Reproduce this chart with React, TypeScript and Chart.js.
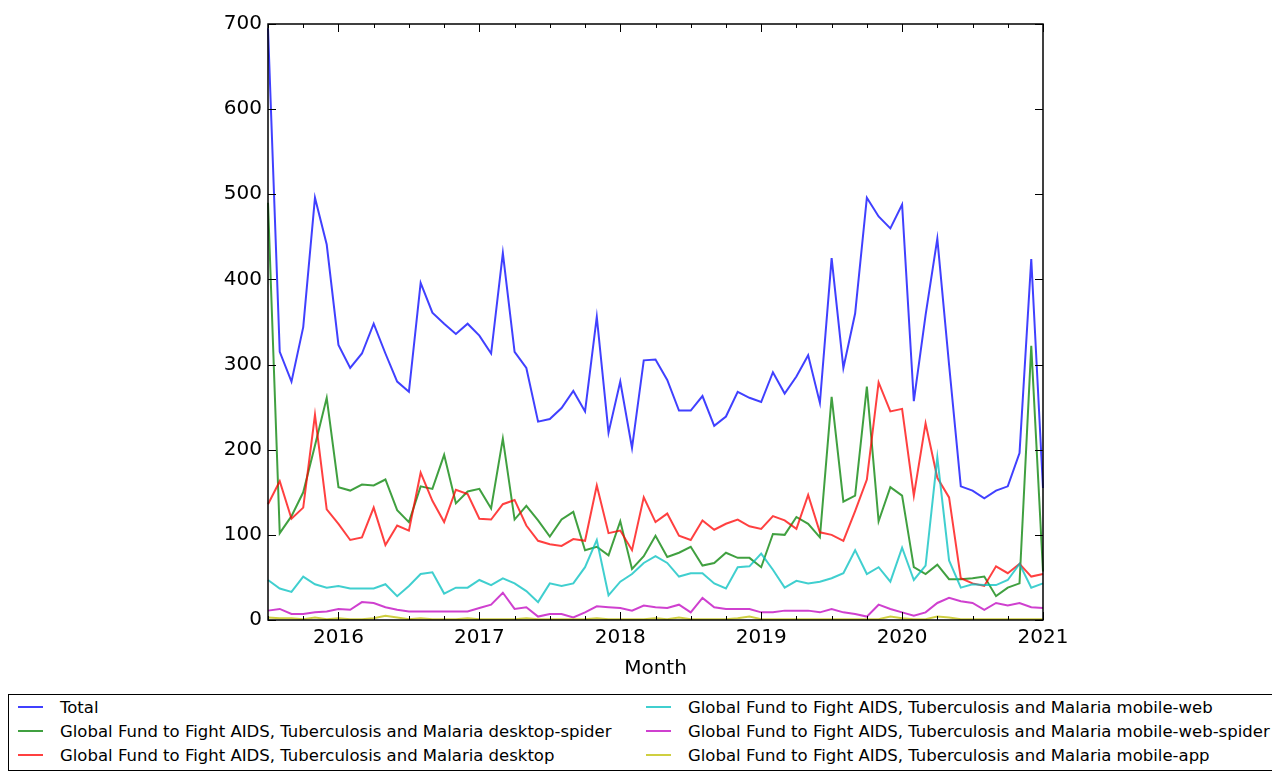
import { Chart, registerables } from "chart.js";
import { useEffect, useRef } from "react";

Chart.register(...registerables);

Chart.defaults.font.family = "'DejaVu Sans', sans-serif";
Chart.defaults.color = "#000";

const months = [
  "2015-07", "2015-08", "2015-09", "2015-10", "2015-11", "2015-12",
  "2016-01", "2016-02", "2016-03", "2016-04", "2016-05", "2016-06",
  "2016-07", "2016-08", "2016-09", "2016-10", "2016-11", "2016-12",
  "2017-01", "2017-02", "2017-03", "2017-04", "2017-05", "2017-06",
  "2017-07", "2017-08", "2017-09", "2017-10", "2017-11", "2017-12",
  "2018-01", "2018-02", "2018-03", "2018-04", "2018-05", "2018-06",
  "2018-07", "2018-08", "2018-09", "2018-10", "2018-11", "2018-12",
  "2019-01", "2019-02", "2019-03", "2019-04", "2019-05", "2019-06",
  "2019-07", "2019-08", "2019-09", "2019-10", "2019-11", "2019-12",
  "2020-01", "2020-02", "2020-03", "2020-04", "2020-05", "2020-06",
  "2020-07", "2020-08", "2020-09", "2020-10", "2020-11", "2020-12",
  "2021-01",
];

const total = [
  695, 315, 280, 344, 496, 441, 323, 296, 313, 348, 313, 280, 268, 396, 361,
  348, 336, 348, 334, 313, 431, 315, 296, 233, 236, 249, 269, 245, 356, 220,
  280, 202, 305, 306, 282, 246, 246, 263, 228, 239, 268, 261, 256, 291, 266,
  286, 311, 255, 425, 296, 360, 496, 474, 460, 488, 257, 358, 448, 300, 157,
  152, 143, 152, 157, 196, 424, 155,
];

const desktopSpider = [
  490, 102, 122, 150, 205, 261, 156, 152, 159, 158, 165, 129, 115, 157, 154,
  194, 137, 151, 154, 131, 213, 118, 134, 117, 98, 118, 127, 82, 86, 76, 116,
  60, 75, 99, 74, 79, 86, 64, 67, 79, 73, 73, 62, 101, 100, 121, 113, 97, 262,
  139, 146, 274, 116, 156, 146, 62, 54, 65, 48, 48, 49, 51, 28, 38, 43, 322, 57,
];

const desktop = [
  136, 163, 119, 132, 241, 130, 113, 94, 97, 132, 88, 111, 105, 173, 140, 115,
  153, 148, 119, 118, 136, 141, 111, 93, 89, 87, 95, 93, 158, 102, 105, 82,
  144, 115, 125, 99, 94, 117, 106, 113, 118, 110, 107, 122, 117, 107, 147, 103,
  100, 93, 128, 165, 279, 245, 248, 146, 231, 167, 144, 49, 43, 40, 63, 55, 66,
  51, 54,
];

const mobileWeb = [
  47, 37, 33, 51, 42, 38, 40, 37, 37, 37, 42, 28, 40, 54, 56, 31, 38, 38, 47,
  41, 49, 43, 34, 21, 43, 40, 43, 62, 94, 29, 45, 54, 67, 75, 67, 51, 55, 55,
  43, 37, 62, 63, 78, 59, 38, 46, 43, 45, 49, 55, 82, 54, 62, 45, 85, 47, 64,
  191, 70, 38, 42, 41, 41, 47, 66, 38, 43,
];

const mobileWebSpider = [
  11, 13, 7, 7, 9, 10, 13, 12, 21, 20, 15, 12, 10, 10, 10, 10, 10, 10, 14, 18,
  32, 13, 15, 4, 7, 7, 3, 9, 16, 15, 14, 11, 17, 15, 14, 18, 9, 26, 15, 13, 13,
  13, 9, 9, 11, 11, 11, 9, 13, 9, 7, 4, 18, 13, 9, 5, 9, 20, 26, 22, 20, 12, 20,
  17, 20, 15, 14,
];

const mobileApp = [
  3, 2, 2, 1, 3, 1, 2, 1, 1, 2, 5, 3, 1, 2, 1, 1, 1, 2, 1, 1, 1, 1, 2, 1, 1, 1,
  1, 1, 2, 1, 1, 1, 1, 2, 1, 3, 1, 1, 1, 1, 2, 4, 1, 1, 1, 1, 1, 1, 1, 1, 1, 1,
  1, 4, 2, 1, 1, 4, 3, 1, 1, 1, 1, 1, 1, 1, 1,
];

const yTicks = [0, 100, 200, 300, 400, 500, 600, 700];

const prefix = "Global Fund to Fight AIDS, Tuberculosis and Malaria";

const series = [
  { label: "Total", data: total, color: "rgba(0, 0, 255, 0.75)" },
  { label: `${prefix} desktop-spider`, data: desktopSpider, color: "rgba(0, 128, 0, 0.75)" },
  { label: `${prefix} desktop`, data: desktop, color: "rgba(255, 0, 0, 0.75)" },
  { label: `${prefix} mobile-web`, data: mobileWeb, color: "rgba(0, 191, 191, 0.75)" },
  { label: `${prefix} mobile-web-spider`, data: mobileWebSpider, color: "rgba(191, 0, 191, 0.75)" },
  { label: `${prefix} mobile-app`, data: mobileApp, color: "rgba(191, 191, 0, 0.75)" },
];

// matplotlib style frame with inward ticks on all four sides
const frameTicks = {
  id: "frameTicks",
  afterDatasetsDraw(chart: Chart) {
    const { ctx, chartArea: a } = chart;
    const x = chart.scales.x;
    const y = chart.scales.y;
    ctx.save();
    ctx.strokeStyle = "#000";
    ctx.lineWidth = 1;
    ctx.beginPath();
    months.forEach((m, i) => {
      if (i % 3 !== 0) return;
      const px = Math.round(x.getPixelForValue(i)) + 0.5;
      const len = m.endsWith("-01") ? 8 : 4;
      ctx.moveTo(px, a.bottom);
      ctx.lineTo(px, a.bottom - len);
      ctx.moveTo(px, a.top);
      ctx.lineTo(px, a.top + len);
    });
    yTicks.forEach((v) => {
      const py = Math.round(y.getPixelForValue(v)) + 0.5;
      ctx.moveTo(a.left, py);
      ctx.lineTo(a.left + 8, py);
      ctx.moveTo(a.right, py);
      ctx.lineTo(a.right - 8, py);
    });
    ctx.stroke();
    ctx.lineWidth = 1.5;
    ctx.strokeRect(a.left, a.top, a.right - a.left, a.bottom - a.top);
    ctx.restore();
  },
};

function Legend() {
  const order = [0, 3, 1, 4, 2, 5];
  return (
    <div
      style={{
        boxSizing: "border-box",
        width: 1265,
        height: 77,
        border: "1px solid #000",
        paddingLeft: 9,
        paddingTop: 0,
        display: "grid",
        gridTemplateColumns: "628px auto",
        gridAutoRows: "24px",
        fontFamily: "'DejaVu Sans', sans-serif",
        fontSize: 16.5,
        color: "#000",
      }}
    >
      {order.map((k) => (
        <div key={k} style={{ display: "flex", alignItems: "center" }}>
          <span
            style={{
              display: "inline-block",
              width: 25,
              height: 2,
              background: series[k].color,
              marginRight: 17,
            }}
          />
          <span>{series[k].label}</span>
        </div>
      ))}
    </div>
  );
}

export default function App() {
  const canvasRef = useRef<HTMLCanvasElement>(null);
  const chartRef = useRef<Chart | null>(null);

  useEffect(() => {
    if (!canvasRef.current) return;

    chartRef.current = new Chart(canvasRef.current, {
      type: "line",
      data: {
        labels: months,
        datasets: series.map((s, i) => ({
          label: s.label,
          data: s.data,
          borderColor: s.color,
          backgroundColor: s.color,
          borderWidth: 2,
          pointRadius: 0,
          tension: 0,
          order: series.length - i,
        })),
      },
      options: {
        animation: false,
        responsive: true,
        maintainAspectRatio: false,
        layout: {
          padding: { top: 12, right: 230, left: 0, bottom: 0 },
        },
        plugins: {
          legend: { display: false },
          tooltip: { enabled: false },
        },
        scales: {
          x: {
            type: "category",
            offset: false,
            grid: { display: false, drawTicks: false },
            border: { display: false },
            ticks: {
              autoSkip: false,
              maxRotation: 0,
              padding: 8,
              font: { size: 20, lineHeight: 1 },
              callback: (v) => {
                const m = months[Number(v)];
                return m.endsWith("-01") ? m.slice(0, 4) : "";
              },
            },
            title: {
              display: true,
              text: "Month",
              font: { size: 20 },
              padding: { top: 0, bottom: 13 },
            },
            afterFit: (s) => {
              s.height = 74;
            },
          },
          y: {
            min: 0,
            max: 700,
            grid: { display: false, drawTicks: false },
            border: { display: false },
            ticks: {
              stepSize: 100,
              padding: 6,
              font: { size: 20, lineHeight: 1 },
            },
            afterFit: (s) => {
              s.width = 260;
            },
          },
        },
      },
      plugins: [frameTicks],
    });

    return () => chartRef.current?.destroy();
  }, []);

  return (
    <div style={{ width: 1265 }}>
      <div style={{ position: "relative", width: 1265, height: 686 }}>
        <canvas ref={canvasRef}></canvas>
      </div>
      <Legend />
    </div>
  );
}
